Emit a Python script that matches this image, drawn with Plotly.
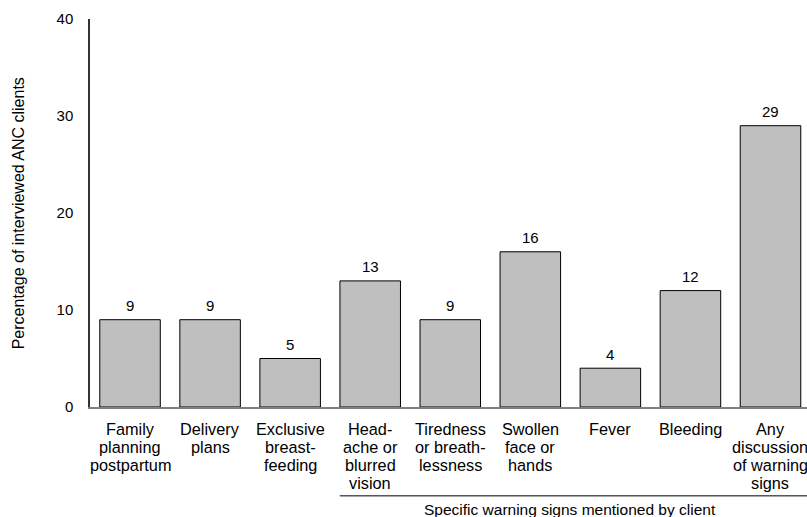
import plotly.graph_objects as go

categories = ["Family<br>planning<br>postpartum", "Delivery<br>plans", "Exclusive<br>breast-<br>feeding",
              "Head-<br>ache or<br>blurred<br>vision", "Tiredness<br>or breath-<br>lessness",
              "Swollen<br>face or<br>hands", "Fever", "Bleeding",
              "Any<br>discussion<br>of warning<br>signs"]
values = [9, 9, 5, 13, 9, 16, 4, 12, 29]
y_ticks = [0, 10, 20, 30, 40]
y_title = "Percentage of interviewed ANC clients"
group_label = "Specific warning signs mentioned by client"

FONT = "Liberation Sans, Arial, sans-serif"
idx = list(range(len(categories)))

fig = go.Figure(go.Bar(
    x=idx, y=values,
    marker=dict(color="#BFBFBF", line=dict(color="#000000", width=1)),
    cliponaxis=False,
))

# value labels above bars
for i, v in zip(idx, values):
    fig.add_annotation(x=i, y=v, text=str(v), showarrow=False, yshift=14,
                       xanchor="center", yanchor="middle",
                       font=dict(size=15, color="#000000"))

# category labels, one line at a time (tighter line spacing than Plotly's tick labels)
for i, lab in zip(idx, categories):
    for j, line in enumerate(lab.split("<br>")):
        fig.add_annotation(x=i, y=0, text=line, showarrow=False,
                           yshift=-(22 + 18 * j), xanchor="center", yanchor="middle",
                           font=dict(size=16.3, color="#000000"))

fig.update_layout(
    width=807, height=517,
    margin=dict(l=90, r=0, t=19, b=110),
    plot_bgcolor="white", paper_bgcolor="white",
    bargap=0.244,
    showlegend=False,
    font=dict(family=FONT, size=15, color="#000000"),
)
fig.update_xaxes(
    range=[-0.5, 8.456], tickmode="array", tickvals=idx, showticklabels=False,
    showline=True, linecolor="#808080", linewidth=1.5, showgrid=False, zeroline=False,
    ticks="",
)
fig.update_yaxes(
    range=[0, 40], tickvals=y_ticks, showline=True, linecolor="#333333", linewidth=1.5,
    showgrid=False, zeroline=False, ticks="", tickfont=dict(size=15, color="#000000"),
    ticklabelstandoff=12,
)
fig.add_annotation(
    text=y_title, textangle=-90, xref="paper", yref="paper",
    x=-0.1, y=0.5, xanchor="center", yanchor="middle", showarrow=False,
    font=dict(size=16, color="#000000"),
)
fig.add_shape(type="line", xref="x", yref="paper", x0=2.62, x1=8.456, y0=-0.229, y1=-0.229,
              line=dict(color="#000000", width=1))
fig.add_annotation(
    text=group_label, xref="x", yref="paper", x=5.5, y=-0.265,
    xanchor="center", yanchor="middle", showarrow=False,
    font=dict(size=15.5, color="#000000"),
)

fig.write_html("out.html", config={"displayModeBar": False},
               post_script="document.body.style.margin='0';document.body.style.overflow='hidden';")
